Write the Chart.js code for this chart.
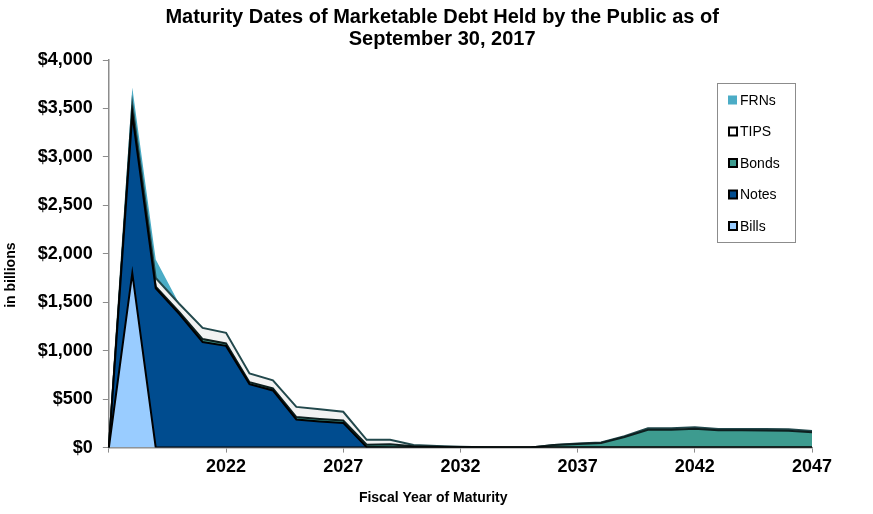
<!DOCTYPE html>
<html>
<head>
<meta charset="utf-8">
<script src="https://cdn.jsdelivr.net/npm/chart.js@4/dist/chart.umd.min.js"></script>
<style>
  html, body { margin: 0; padding: 0; background: #fff; }
  #wrap { width: 873px; height: 514px; }
</style>
</head>
<body>
<div id="wrap"><canvas id="debtChart" width="873" height="514"></canvas></div>
<script>
// Fiscal years of maturity
const years = ['2017', '2018', '2019', '2020', '2021', '2022', '2023', '2024', '2025', '2026',
    '2027', '2028', '2029', '2030', '2031', '2032', '2033', '2034', '2035', '2036',
    '2037', '2038', '2039', '2040', '2041', '2042', '2043', '2044', '2045', '2046', '2047'];

// Amounts maturing, in billions of dollars
const bills = [0, 1800, 0, 0, 0, 0, 0, 0, 0, 0, 0, 0, 0, 0, 0, 0, 0, 0, 0, 0,
    0, 0, 0, 0, 0, 0, 0, 0, 0, 0, 0];
const notes = [0, 1640, 1645, 1380, 1090, 1050, 655, 590, 290, 270, 255, 5, 0, 0, 0, 0, 0, 0, 0, 0,
    0, 0, 0, 0, 0, 0, 0, 0, 0, 0, 0];
const bonds = [0, 10, 15, 20, 30, 25, 20, 20, 25, 25, 25, 25, 35, 15, 10, 0, 0, 0, 0, 28,
    38, 48, 110, 185, 185, 195, 178, 178, 177, 175, 158];
const tips = [0, 90, 90, 85, 115, 110, 90, 85, 105, 100, 90, 50, 45, 13, 7, 10, 3, 0, 0, 0,
    5, 5, 8, 14, 14, 15, 14, 14, 14, 14, 14];
const frns = [0, 175, 190, 0, 0, 0, 0, 0, 0, 0, 0, 0, 0, 0, 0, 0, 0, 0, 0, 0,
    0, 0, 0, 0, 0, 0, 0, 0, 0, 0, 0];

const yTicks = [0, 500, 1000, 1500, 2000, 2500, 3000, 3500, 4000];

// spaces push the centred titles a little off-centre, like in the original slide
const sp = n => ' '.repeat(n);

// legend drawn inside the plot, in the reverse order of the stack
const legendBox = {
    id: 'legendBox',
    afterDraw(chart) {
        const ctx = chart.ctx;
        const area = chart.chartArea;
        const left = area.right - 95;
        const top = area.top + 23;
        ctx.save();
        ctx.strokeStyle = '#8c8c8c';
        ctx.lineWidth = 1;
        ctx.strokeRect(left + 0.5, top + 0.5, 78, 159);
        ctx.font = '14px "Liberation Sans", Arial, sans-serif';
        ctx.textBaseline = 'middle';
        const items = chart.data.datasets.slice().reverse();
        items.forEach(function(ds, i) {
            const cy = top + 17 + i * 31.5;
            if (ds.legendBorder) {
                ctx.fillStyle = ds.legendFill;
                ctx.fillRect(left + 12, cy - 4, 8, 8);
                ctx.strokeStyle = '#000';
                ctx.lineWidth = 2;
                ctx.strokeRect(left + 12, cy - 4, 8, 8);
            } else {
                ctx.fillStyle = ds.legendFill;
                ctx.fillRect(left + 11, cy - 4.5, 9, 9);
            }
            ctx.fillStyle = '#000';
            ctx.fillText(ds.label, left + 23, cy + 1);
        });
        ctx.restore();
    }
};

function areaSet(label, data, fill, line, width, fillMode, legendBorder) {
    return {
        label: label,
        data: data,
        backgroundColor: fill,
        borderColor: line,
        borderWidth: width,
        fill: fillMode,
        pointRadius: 0,
        pointHoverRadius: 0,
        tension: 0,
        legendFill: label === 'TIPS' ? '#ffffff' : fill,
        legendBorder: legendBorder
    };
}

const ctx = document.getElementById('debtChart');
new Chart(ctx.getContext('2d'), {
    type: 'line',
    data: {
        labels: years,
        datasets: [
            areaSet('Bills', bills, '#99ccff', '#000000', 2, 'origin', true),
            areaSet('Notes', notes, '#004c8f', '#000000', 2, '-1', true),
            areaSet('Bonds', bonds, '#3d9b8f', '#0d1f1f', 2, '-1', true),
            areaSet('TIPS', tips, '#f2f2f2', '#22484c', 2, '-1', true),
            areaSet('FRNs', frns, '#4bacc6', 'rgba(0,0,0,0)', 0, '-1', false)
        ]
    },
    options: {
        responsive: false,
        animation: false,
        layout: { padding: { left: 0, right: 61, top: 0, bottom: 0 } },
        plugins: {
            legend: { display: false },
            tooltip: { enabled: false },
            title: {
                display: true,
                text: [sp(13) + 'Maturity Dates of Marketable Debt Held by the Public as of', sp(13) + 'September 30, 2017'],
                color: '#000',
                font: { family: '"Liberation Sans", Arial, sans-serif', size: 20, weight: 'bold', lineHeight: 1.1 },
                padding: { top: 6, bottom: 10 }
            }
        },
        scales: {
            x: {
                type: 'category',
                offset: false,
                grid: {
                    drawOnChartArea: false,
                    tickLength: 5,
                    tickColor: function(c) { return c.index % 5 === 0 ? '#8c8c8c' : 'rgba(0,0,0,0)'; }
                },
                border: { color: '#8c8c8c', width: 1.5 },
                ticks: {
                    autoSkip: false,
                    maxRotation: 0,
                    padding: 4,
                    color: '#000',
                    font: { family: '"Liberation Sans", Arial, sans-serif', size: 18, weight: 'bold' },
                    callback: function(v, i) { return (i > 0 && i % 5 === 0) ? years[i] : ''; }
                },
                title: {
                    display: true,
                    text: 'Fiscal Year of Maturity' + sp(14),
                    color: '#000',
                    font: { family: '"Liberation Sans", Arial, sans-serif', size: 14, weight: 'bold' },
                    padding: { top: 8, bottom: 7 }
                }
            },
            y: {
                stacked: true,
                min: 0,
                max: 4000,
                afterBuildTicks: function(axis) { axis.ticks = yTicks.map(v => ({ value: v })); },
                grid: { drawOnChartArea: false, tickLength: 6, color: '#8c8c8c' },
                border: { color: '#8c8c8c', width: 1.5 },
                ticks: {
                    padding: 10,
                    color: '#000',
                    font: { family: '"Liberation Sans", Arial, sans-serif', size: 18, weight: 'bold' },
                    callback: function(v) { return '$' + Number(v).toLocaleString('en-US'); }
                },
                title: {
                    display: true,
                    text: 'in billions' + sp(11),
                    color: '#000',
                    font: { family: '"Liberation Sans", Arial, sans-serif', size: 14, weight: 'bold' },
                    padding: { top: 3, bottom: 8 }
                }
            }
        }
    },
    plugins: [legendBox]
});
</script>
</body>
</html>
